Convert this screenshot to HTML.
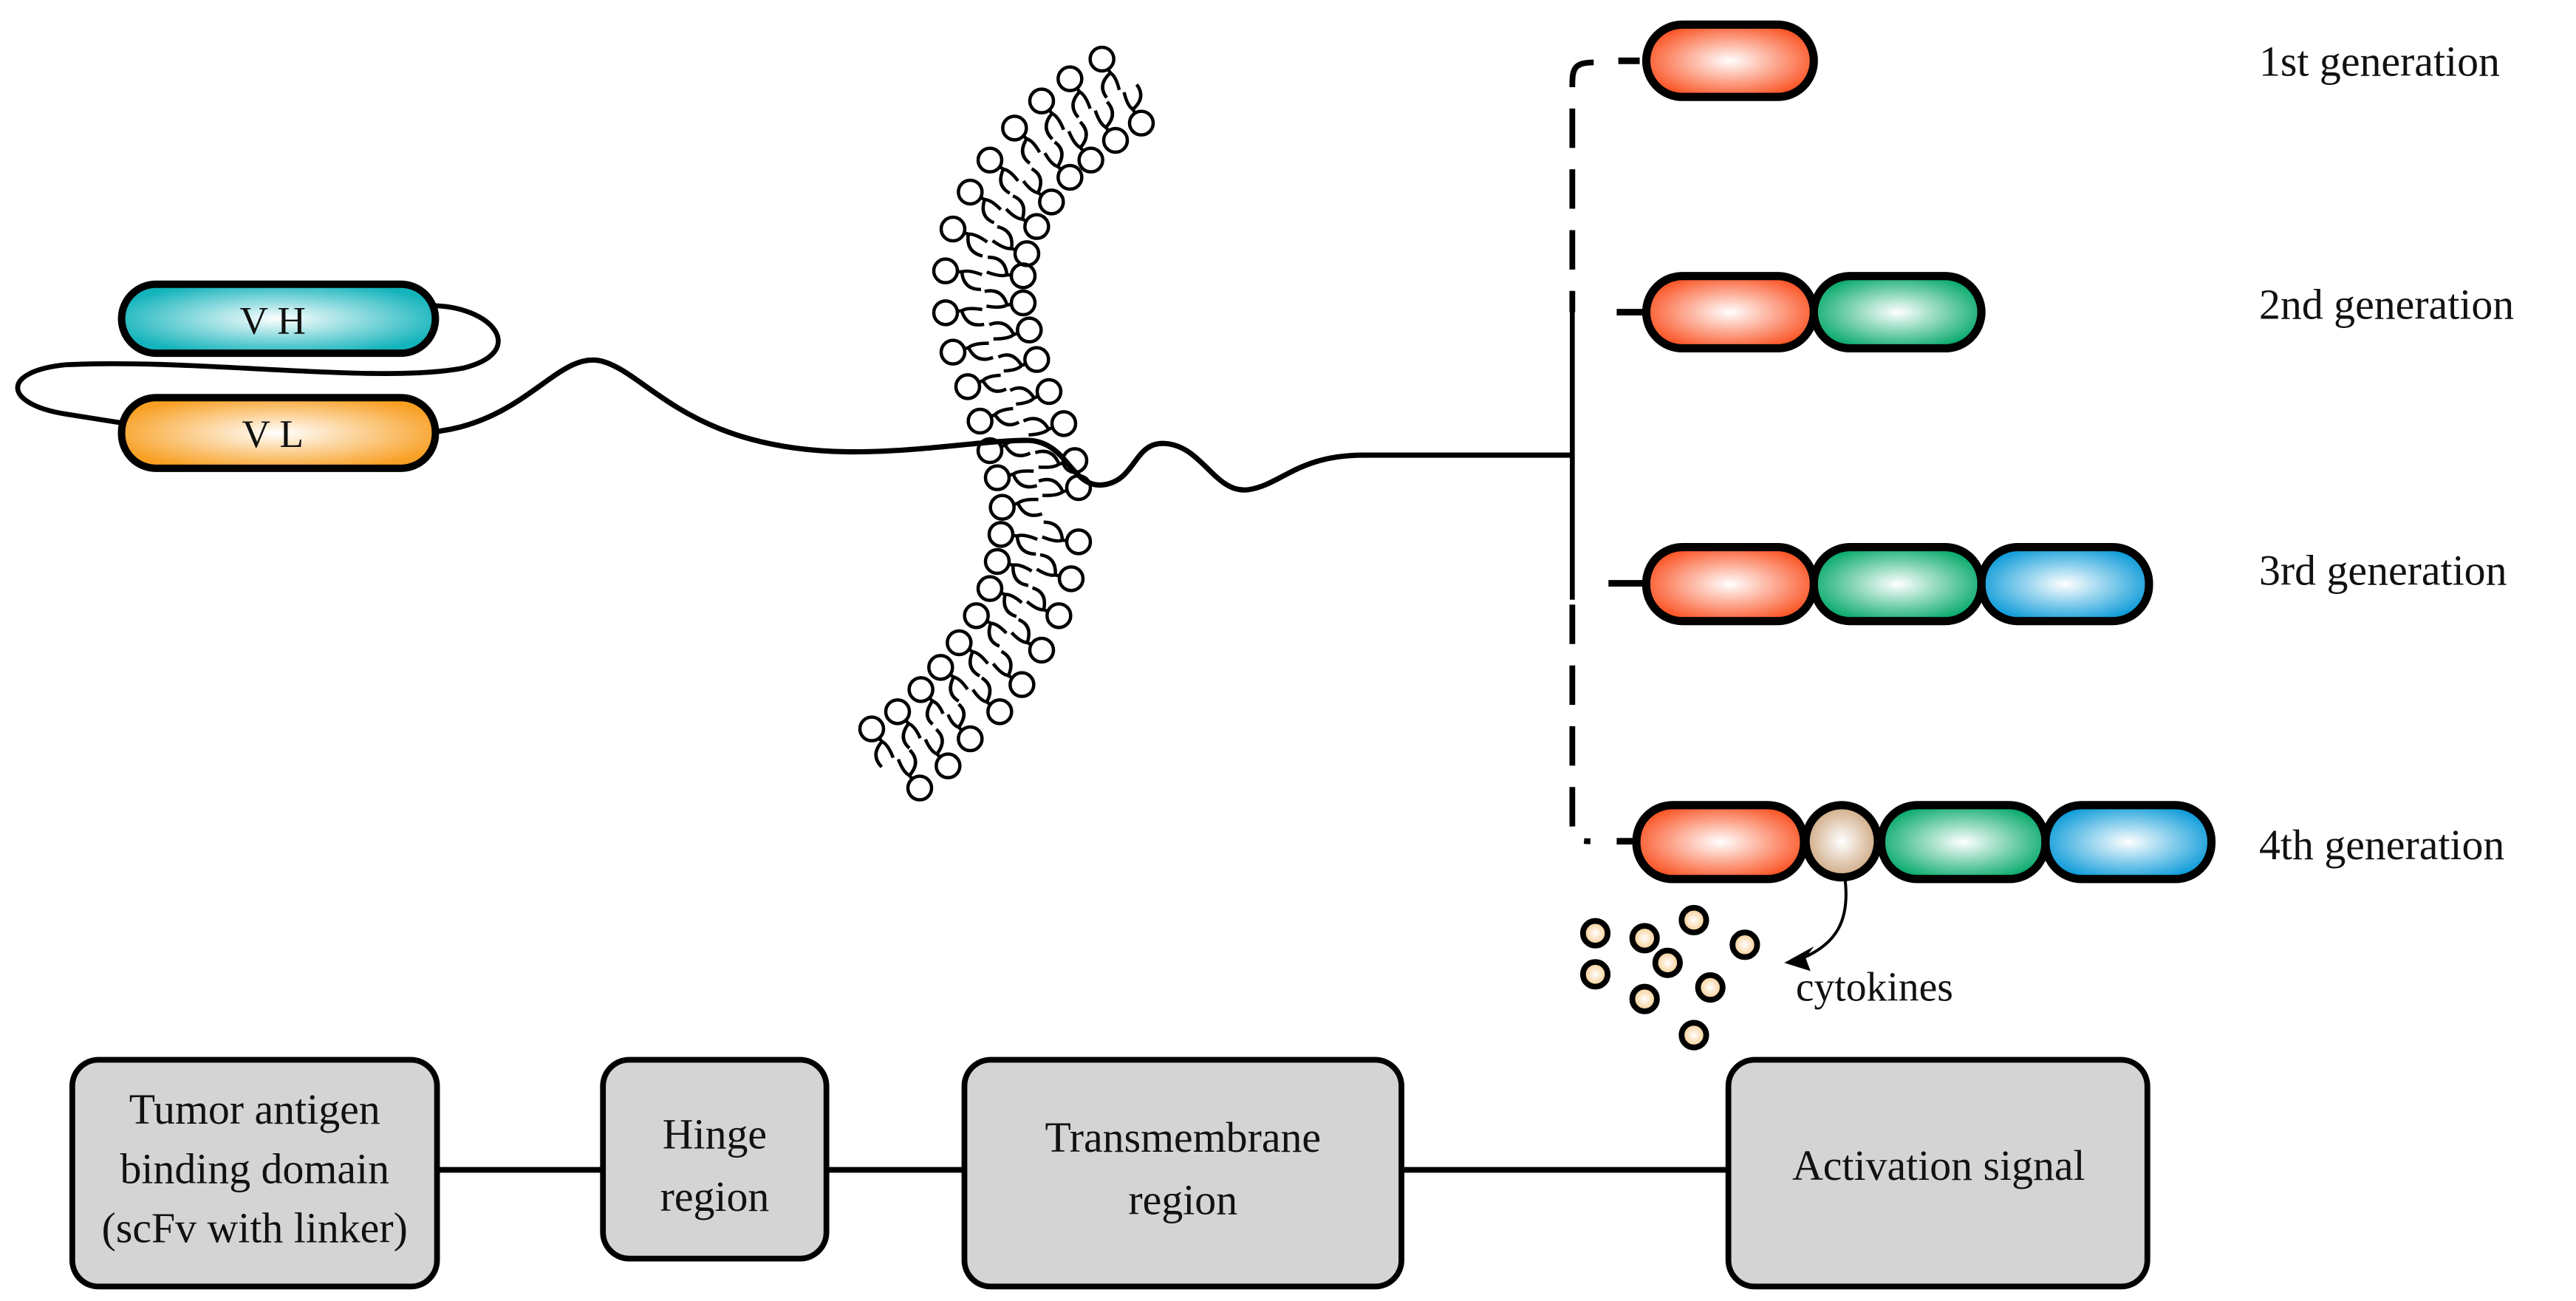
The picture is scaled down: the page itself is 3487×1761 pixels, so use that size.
<!DOCTYPE html>
<html><head><meta charset="utf-8">
<style>
html,body{margin:0;padding:0;background:#fff;}
svg{display:block;}
text{font-family:"Liberation Serif",serif;fill:#111;}
</style></head>
<body>
<svg id="s" width="3487" height="1761" viewBox="0 0 3487 1761" xmlns="http://www.w3.org/2000/svg">
<defs>
<radialGradient id="gR" cx="0.5" cy="0.5" r="0.55"><stop offset="0" stop-color="#fff"/><stop offset="1" stop-color="#fa5222"/></radialGradient>
<radialGradient id="gG" cx="0.5" cy="0.5" r="0.55"><stop offset="0" stop-color="#fff"/><stop offset="1" stop-color="#06a96b"/></radialGradient>
<radialGradient id="gB" cx="0.5" cy="0.5" r="0.55"><stop offset="0" stop-color="#fff"/><stop offset="1" stop-color="#0a9ad8"/></radialGradient>
<radialGradient id="gT" cx="0.5" cy="0.5" r="0.55"><stop offset="0" stop-color="#fff"/><stop offset="1" stop-color="#12b3bb"/></radialGradient>
<radialGradient id="gO" cx="0.5" cy="0.5" r="0.55"><stop offset="0" stop-color="#fff"/><stop offset="1" stop-color="#f8a024"/></radialGradient>
<radialGradient id="gC" cx="0.5" cy="0.5" r="0.55"><stop offset="0" stop-color="#fff"/><stop offset="1" stop-color="#c99f75"/></radialGradient>
<radialGradient id="gD" cx="0.5" cy="0.5" r="0.55"><stop offset="0" stop-color="#fff"/><stop offset="1" stop-color="#f6c27a"/></radialGradient>
</defs>
<g id="bil" fill="none" stroke="#000" stroke-width="4.5"></g>
<g transform="scale(2.224)">
 <path d="M262,186 C300,186 322,214 282,224 C230,234 120,218 40,222 C0,226 2,246 40,252 L78,258" fill="none" stroke="#000" stroke-width="3"/>
 <path d="M262,263 C320,258 340,212 367,220 C395,228 420,275 520,275 C560,275 600,268 625,268 C650,268 652,298 672,295 C692,292 690,268 710,270 C732,272 740,301 760,298 C780,295 790,277 830,277 L957,277" fill="none" stroke="#000" stroke-width="3.2"/>
 <rect x="74" y="173" width="191" height="42" rx="21" fill="url(#gT)" stroke="#000" stroke-width="4.5"/>
 <rect x="74" y="242" width="191" height="43" rx="21" fill="url(#gO)" stroke="#000" stroke-width="4.5"/>
 <text x="166" y="203" font-size="24" text-anchor="middle">V H</text>
 <text x="166" y="272" font-size="24" text-anchor="middle">V L</text>
 <path d="M970,38 C958,38 957,42 957,52 L957,190" fill="none" stroke="#000" stroke-width="3.5" stroke-dasharray="24,13"/>
 <path d="M957,190 L957,365" fill="none" stroke="#000" stroke-width="3"/>
 <path d="M957,368 L957,500 C957,510 958,512 968,512" fill="none" stroke="#000" stroke-width="3.5" stroke-dasharray="24,13"/>
 <g stroke="#000" stroke-width="4">
  <line x1="985" y1="37" x2="998" y2="37"/>
  <line x1="984" y1="190" x2="1001" y2="190"/>
  <line x1="979" y1="355" x2="1001" y2="355"/>
  <line x1="984" y1="512" x2="995" y2="512"/>
 </g>
 <g stroke="#000" stroke-width="5">
  <rect x="1002" y="15" width="102" height="44" rx="22" fill="url(#gR)"/>
  <rect x="1002" y="168" width="102" height="44" rx="22" fill="url(#gR)"/>
  <rect x="1104" y="168" width="102" height="44" rx="22" fill="url(#gG)"/>
  <rect x="1002" y="333" width="102" height="45" rx="22" fill="url(#gR)"/>
  <rect x="1104" y="333" width="102" height="45" rx="22" fill="url(#gG)"/>
  <rect x="1206" y="333" width="102" height="45" rx="22" fill="url(#gB)"/>
  <rect x="996" y="490" width="102" height="45" rx="22" fill="url(#gR)"/>
  <rect x="1145" y="490" width="100" height="45" rx="22" fill="url(#gG)"/>
  <rect x="1245" y="490" width="101" height="45" rx="22" fill="url(#gB)"/>
  <circle cx="1121" cy="512" r="22" fill="url(#gC)"/>
 </g>
 <text x="1375" y="46" font-size="26">1st generation</text>
 <text x="1375" y="194" font-size="26">2nd generation</text>
 <text x="1375" y="356" font-size="26">3rd generation</text>
 <text x="1375" y="523" font-size="26">4th generation</text>
 <g stroke="#000" stroke-width="3.5" fill="url(#gD)">
  <circle cx="971" cy="568" r="7.5"/><circle cx="1001" cy="571" r="7.5"/><circle cx="1031" cy="560" r="7.5"/>
  <circle cx="1015" cy="586" r="7.5"/><circle cx="1062" cy="575" r="7.5"/><circle cx="971" cy="593" r="7.5"/>
  <circle cx="1001" cy="608" r="7.5"/><circle cx="1041" cy="601" r="7.5"/><circle cx="1031" cy="630" r="7.5"/>
 </g>
 <path d="M1123,535 C1126,560 1118,575 1095,584" fill="none" stroke="#000" stroke-width="1.8"/>
 <path d="M1086,586 L1104,576 L1099,583 L1102,591 Z" fill="#000"/>
 <text x="1093" y="609" font-size="25">cytokines</text>
 <line x1="266" y1="712" x2="1052" y2="712" stroke="#000" stroke-width="3.5"/>
 <g fill="#d4d4d4" stroke="#000" stroke-width="3.5">
  <rect x="44" y="645" width="222" height="138" rx="16"/>
  <rect x="367" y="645" width="136" height="121" rx="16"/>
  <rect x="587" y="645" width="266" height="138" rx="16"/>
  <rect x="1052" y="645" width="255" height="138" rx="16"/>
 </g>
 <g font-size="26" text-anchor="middle">
  <text x="155" y="684">Tumor antigen</text>
  <text x="155" y="720">binding domain</text>
  <text x="155" y="756">(scFv with linker)</text>
  <text x="435" y="699">Hinge</text>
  <text x="435" y="737">region</text>
  <text x="720" y="701">Transmembrane</text>
  <text x="720" y="739">region</text>
  <text x="1180" y="718">Activation signal</text>
 </g>
</g>
</svg>
<script>
(function(){
var L=[[1055,30],[925,70],[810,115],[700,170],[600,235],[520,300],[450,375],[420,460],[420,545],[450,625],[510,695],[560,765],[600,825],[630,880],[650,940],[645,995],[630,1050],[600,1105],[545,1160],[475,1215],[400,1265],[320,1310],[225,1355],[120,1390]];
var R=[[1215,160],[1110,195],[1010,235],[925,270],[850,320],[790,370],[750,425],[735,470],[735,525],[760,580],[790,640],[840,705],[900,770],[945,845],[960,900],[960,1010],[930,1085],[880,1160],[810,1230],[730,1300],[640,1355],[520,1410],[430,1465],[315,1510]];
function c(p){return [1140+p[0]/3,60+p[1]*2/3];}
var g=document.getElementById('bil'),h='';
function lip(a,b){
 var dx=b[0]-a[0],dy=b[1]-a[1],d=Math.sqrt(dx*dx+dy*dy),ux=dx/d,uy=dy/d,px=-uy,py=ux;
 var hx=a[0]+ux*16,hy=a[1]+uy*16;var t=Math.min(d*0.47,50);
 h+='<circle cx="'+a[0]+'" cy="'+a[1]+'" r="16"/>';
 var ex=a[0]+ux*t,ey=a[1]+uy*t;
 h+='<path d="M'+hx+','+hy+' L'+(hx+ux*6)+','+(hy+uy*6)+' Q'+(hx+ux*10+px*24)+','+(hy+uy*10+py*24)+' '+(ex+px*22)+','+(ey+py*22)+'"/>';
 h+='<path d="M'+(hx+ux*6)+','+(hy+uy*6)+' Q'+(hx+ux*14-px*4)+','+(hy+uy*14-py*4)+' '+(ex+px*2)+','+(ey+py*2)+'"/>';
}
for(var i=0;i<L.length;i++){var a=c(L[i]),b=c(R[i]);lip(a,b);lip(b,a);}
g.innerHTML=h;
})();
</script>
</body></html>
